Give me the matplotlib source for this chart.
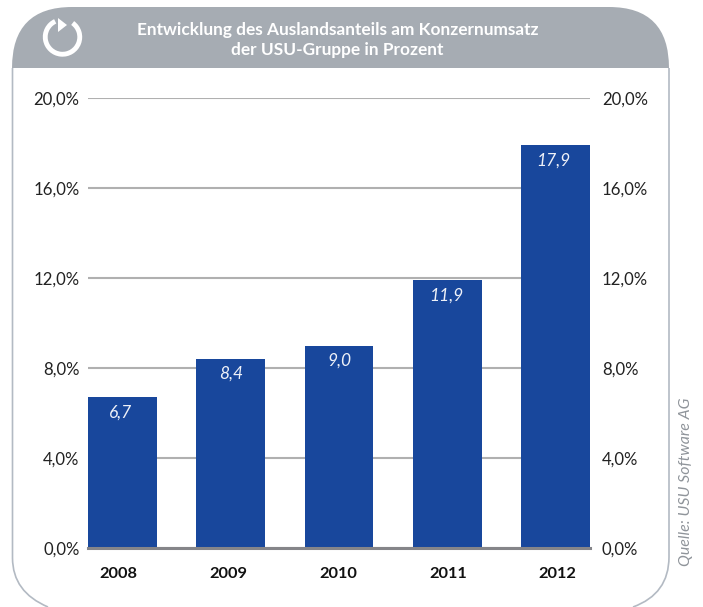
import matplotlib
matplotlib.use("Agg")
import matplotlib.pyplot as plt
from matplotlib.path import Path
from matplotlib.patches import PathPatch, Arc, Polygon

years = ["2008", "2009", "2010", "2011", "2012"]
anteil = [6.7, 8.4, 9.0, 11.9, 17.9]
anteil_labels = ["6,7", "8,4", "9,0", "11,9", "17,9"]
y_ticks = [0, 4, 8, 12, 16, 20]
y_labels = ["0,0%", "4,0%", "8,0%", "12,0%", "16,0%", "20,0%"]
title = "Entwicklung des Auslandsanteils am Konzernumsatz\nder USU-Gruppe in Prozent"
quelle = "Quelle: USU Software AG"

W, H = 703, 607
plt.rcParams["font.family"] = ["Lato", "DejaVu Sans"]

fig = plt.figure(figsize=(W / 100, H / 100), dpi=100)

# Rahmen und Kopf in Pixelkoordinaten
bg = fig.add_axes([0, 0, 1, 1])
bg.set_xlim(0, W)
bg.set_ylim(H, 0)
bg.axis("off")

frame = Path(
    [(12.5, 68), (12.5, 558), (12.5, 592), (48, 607), (633, 607), (669, 594), (669, 557), (669, 68)],
    [Path.MOVETO, Path.LINETO, Path.CURVE3, Path.CURVE3, Path.MOVETO, Path.CURVE3, Path.CURVE3, Path.LINETO],
)
bg.add_patch(PathPatch(frame, fc="none", ec="#b3bac3", lw=1.2))

head = Path(
    [(12, 68), (12, 7), (72, 7), (609, 7), (669, 7), (669, 68), (12, 68)],
    [Path.MOVETO, Path.CURVE3, Path.CURVE3, Path.LINETO, Path.CURVE3, Path.CURVE3, Path.CLOSEPOLY],
)
bg.add_patch(PathPatch(head, fc="#a6acb3", ec="none"))
bg.text(337.5, 40, title, color="white", fontsize=12.4, fontweight="bold",
        ha="center", va="center", linespacing=1.35)

# Symbol oben links
bg.add_patch(Arc((62.5, 37), 34.5, 34.5, theta1=-54, theta2=245, ec="white", lw=3.5))
bg.add_patch(Polygon([(58, 18), (67, 25), (58, 32)], fc="white", ec="none"))

bg.text(686, 482, quelle, color="#8f949a", fontsize=11.4, style="italic",
        rotation=90, ha="center", va="center")

# Diagramm
ax = fig.add_axes([88 / W, 1 - 548 / H, (590 - 88) / W, (548 - 98) / H])
ax.patch.set_alpha(0)
bar_w = 0.637
ax.bar(range(len(years)), anteil, width=bar_w, color="#18479c", zorder=2)
ax.set_xlim(-bar_w / 2, len(years) - 1 + bar_w / 2)
ax.set_ylim(0, 20)
ax.set_yticks(y_ticks)
ax.set_yticklabels(y_labels)
ax.set_xticks([])
ax.tick_params(axis="y", length=0, pad=6, labelsize=12.1, labelcolor="#222222")
ax.grid(axis="y", color="#b0b0b0", lw=1.5, zorder=1)
ax.set_axisbelow(True)
for s in ["top", "left", "right"]:
    ax.spines[s].set_visible(False)
ax.spines["bottom"].set_color("#858589")
ax.spines["bottom"].set_linewidth(2.2)
ax.spines["bottom"].set_zorder(3)

# rechte Skala, eigener Abstand
ax_r = ax.twinx()
ax_r.set_ylim(ax.get_ylim())
ax_r.set_yticks(y_ticks)
ax_r.set_yticklabels(y_labels)
ax_r.tick_params(axis="y", length=0, pad=8.5, labelsize=12.1, labelcolor="#222222")
for s in ax_r.spines.values():
    s.set_visible(False)

# Jahreszahlen sitzen im Original nicht ganz mittig unter den Balken
year_shift = [-4, -2.5, -1, 1, 1.5]
label_shift = [-2, 0, 0, -1, -2]
for i, v in enumerate(anteil):
    ax.annotate(anteil_labels[i], (i, v), xytext=(label_shift[i], -7), textcoords="offset pixels",
                ha="center", va="top", color="#eef1f8", fontsize=12.5, style="italic", zorder=4)
    ax.annotate(years[i], (i, 0), xytext=(year_shift[i], -26), textcoords="offset pixels",
                ha="center", va="center", color="#111111", fontsize=11.8, fontweight="bold",
                annotation_clip=False)

fig.savefig("out.png", dpi=100)
